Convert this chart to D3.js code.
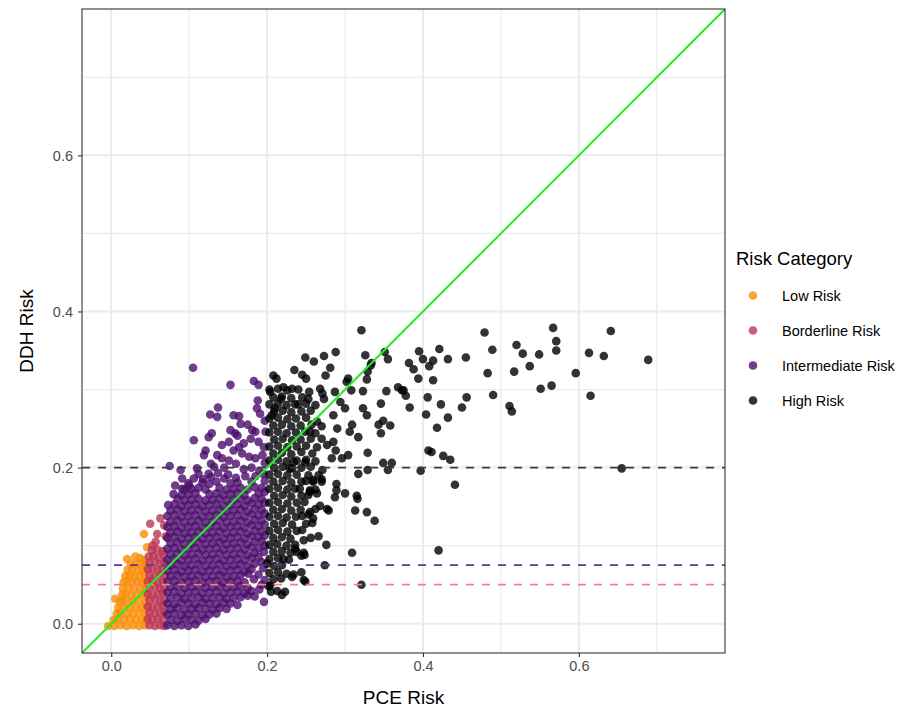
<!DOCTYPE html>
<html>
<head>
<meta charset="utf-8">
<script src="https://d3js.org/d3.v7.min.js"></script>
<style>
body { margin: 0; background: #fff; font-family: "Liberation Sans", Arial, sans-serif; }
</style>
</head>
<body>
<div id="chart"></div>
<script>
const categories = ["Low Risk", "Borderline Risk", "Intermediate Risk", "High Risk"];
const categoryColors = ["#F98E09", "#BC3754", "#4B0C6B", "#000004"];
const axisTicks = [0, 0.2, 0.4, 0.6];
const minorTicks = [0.1, 0.3, 0.5, 0.7];
const cutoffs = [0.2, 0.075, 0.05];
const cutoffColors = ["#3a3a3a", "#6a2fa0", "#ff7b7b"];

// PCE risk (x), DDH risk (y)
const lowRisk = [
  [-.004,-.003],[.004,-.003],[.012,-.002],[.020,-.003],[.028,-.002],[.036,-.003],[.043,-.002],
  [.003,.005],[.008,.006],[.016,.005],[.024,.006],[.032,.005],[.040,.006],[.045,.004],
  [.007,.013],[.012,.014],[.020,.012],[.028,.013],[.036,.014],[.044,.012],
  [.009,.021],[.016,.021],[.024,.020],[.032,.022],[.040,.021],[.045,.020],
  [.011,.029],[.014,.030],[.020,.028],[.028,.029],[.036,.030],[.044,.028],
  [.005,.032],[.014,.037],[.018,.038],[.025,.036],[.033,.037],[.041,.038],[.045,.036],
  [.015,.045],[.022,.046],[.029,.044],[.037,.045],[.044,.046],
  [.016,.053],[.020,.055],[.026,.053],[.033,.054],[.040,.052],[.045,.054],
  [.018,.061],[.024,.062],[.030,.060],[.037,.061],[.043,.062],
  [.021,.069],[.027,.070],[.034,.068],[.040,.070],[.045,.069],
  [.025,.077],[.031,.076],[.038,.078],[.044,.077],
  [.0205,.083],[.031,.086],[.042,.081],[.042,.115],[.046,.098],[.037,.084]
];

const borderlineRisk = [
  [.049,-.002],[.056,-.003],[.063,-.002],[.068,-.003],
  [.047,.006],[.053,.005],[.060,.006],[.066,.005],
  [.049,.014],[.056,.013],[.063,.014],[.068,.015],
  [.047,.022],[.053,.021],[.060,.022],[.066,.023],
  [.049,.030],[.056,.031],[.063,.029],[.068,.030],
  [.047,.038],[.053,.037],[.060,.038],[.066,.039],
  [.049,.046],[.056,.047],[.063,.045],[.068,.046],
  [.047,.054],[.053,.055],[.060,.053],[.066,.054],
  [.049,.062],[.056,.061],[.063,.063],[.068,.062],
  [.047,.070],[.053,.071],[.060,.069],[.066,.070],
  [.049,.078],[.056,.079],[.063,.077],[.068,.078],
  [.048,.086],[.054,.087],[.061,.085],[.067,.088],
  [.052,.094],[.059,.095],[.066,.093],
  [.053,.100],[.059,.115],[.070,.112],[.050,.128],[.063,.135],[.068,.126],[.057,.105]
];

const intermediateRisk = [
  [.072,-.002],[.081,-.003],[.090,-.002],[.099,-.003],[.108,-.001],
  [.076,.005],[.085,.004],[.094,.006],[.103,.005],[.112,.004],[.121,.006],
  [.072,.012],[.081,.013],[.090,.011],[.099,.012],[.108,.013],[.117,.011],[.126,.012],[.135,.013],
  [.076,.019],[.085,.020],[.094,.018],[.103,.019],[.112,.020],[.121,.019],[.130,.018],[.139,.020],[.148,.019],
  [.072,.026],[.081,.025],[.090,.027],[.099,.026],[.108,.025],[.117,.027],[.126,.026],[.135,.025],[.144,.027],[.153,.026],[.162,.024],
  [.076,.033],[.085,.034],[.094,.032],[.103,.033],[.112,.034],[.121,.032],[.130,.033],[.139,.034],[.148,.032],[.157,.033],[.166,.034],[.175,.036],[.184,.035],[.196,.028],
  [.072,.040],[.081,.041],[.090,.039],[.099,.040],[.108,.041],[.117,.039],[.126,.040],[.135,.041],[.144,.039],[.153,.040],[.162,.041],[.171,.039],[.180,.042],[.190,.044],
  [.076,.047],[.085,.048],[.094,.046],[.103,.047],[.112,.048],[.121,.046],[.130,.047],[.139,.048],[.148,.046],[.157,.047],[.166,.048],[.175,.046],[.193,.050],
  [.072,.054],[.081,.055],[.090,.053],[.099,.054],[.108,.055],[.117,.053],[.126,.054],[.135,.055],[.144,.053],[.153,.054],[.162,.055],[.171,.053],[.183,.057],[.197,.056],
  [.076,.061],[.085,.062],[.094,.060],[.103,.061],[.112,.062],[.121,.060],[.130,.061],[.139,.062],[.148,.060],[.157,.061],[.166,.062],[.176,.064],[.189,.063],
  [.072,.068],[.081,.069],[.090,.067],[.099,.068],[.108,.069],[.117,.067],[.126,.068],[.135,.069],[.144,.067],[.153,.068],[.162,.069],[.171,.067],[.180,.070],[.195,.071],
  [.076,.075],[.085,.076],[.094,.074],[.103,.075],[.112,.076],[.121,.074],[.130,.075],[.139,.076],[.148,.074],[.157,.075],[.166,.076],[.175,.074],[.184,.077],[.193,.079],
  [.072,.082],[.081,.083],[.090,.081],[.099,.082],[.108,.083],[.117,.081],[.126,.082],[.135,.083],[.144,.081],[.153,.082],[.162,.083],[.171,.081],[.180,.084],[.189,.086],
  [.076,.089],[.085,.090],[.094,.088],[.103,.089],[.112,.090],[.121,.088],[.130,.089],[.139,.090],[.148,.088],[.157,.089],[.166,.090],[.175,.088],[.184,.091],[.196,.092],
  [.072,.096],[.081,.097],[.090,.095],[.099,.096],[.108,.097],[.117,.095],[.126,.096],[.135,.097],[.144,.095],[.153,.096],[.162,.097],[.171,.095],[.180,.098],[.189,.097],[.197,.100],
  [.076,.103],[.085,.104],[.094,.102],[.103,.103],[.112,.104],[.121,.102],[.130,.103],[.139,.104],[.148,.102],[.157,.103],[.166,.104],[.175,.102],[.184,.105],[.193,.106],
  [.072,.110],[.081,.111],[.090,.109],[.099,.110],[.108,.111],[.117,.109],[.126,.110],[.135,.111],[.144,.109],[.153,.110],[.162,.111],[.171,.109],[.180,.112],[.189,.111],[.197,.113],
  [.076,.117],[.085,.118],[.094,.116],[.103,.117],[.112,.118],[.121,.116],[.130,.117],[.139,.118],[.148,.116],[.157,.117],[.166,.118],[.175,.116],[.184,.119],[.193,.118],
  [.072,.124],[.081,.125],[.090,.123],[.099,.124],[.108,.125],[.117,.123],[.126,.124],[.135,.125],[.144,.123],[.153,.124],[.162,.125],[.171,.123],[.180,.126],[.189,.125],[.197,.127],
  [.076,.131],[.085,.132],[.094,.130],[.103,.131],[.112,.132],[.121,.130],[.130,.131],[.139,.132],[.148,.130],[.157,.131],[.166,.132],[.175,.130],[.184,.133],[.193,.132],
  [.072,.138],[.081,.139],[.090,.137],[.099,.138],[.108,.139],[.117,.137],[.126,.138],[.135,.139],[.144,.137],[.153,.138],[.162,.139],[.171,.137],[.180,.140],[.189,.139],[.197,.141],
  [.076,.145],[.085,.146],[.094,.144],[.103,.145],[.112,.146],[.121,.144],[.130,.145],[.139,.146],[.148,.144],[.157,.145],[.166,.146],[.175,.144],[.184,.147],[.193,.146],
  [.073,.152],[.081,.153],[.090,.151],[.099,.152],[.108,.153],[.117,.151],[.126,.152],[.135,.153],[.144,.151],[.153,.152],[.162,.153],[.171,.151],[.180,.154],[.189,.153],[.197,.155],
  [.085,.160],[.094,.158],[.103,.159],[.112,.160],[.121,.158],[.130,.159],[.139,.160],[.148,.158],[.157,.159],[.166,.160],[.175,.158],[.184,.161],[.193,.160],
  [.080,.166],[.090,.165],[.099,.166],[.108,.167],[.126,.166],[.135,.167],[.144,.165],[.153,.166],[.162,.167],[.171,.165],[.189,.167],[.197,.169],
  [.094,.172],[.103,.173],[.112,.174],[.121,.172],[.139,.174],[.148,.172],[.157,.173],[.166,.174],[.175,.172],[.184,.175],[.193,.174],
  [.099,.180],[.117,.181],[.126,.179],[.135,.182],[.153,.180],[.162,.181],[.180,.182],[.197,.183],
  [.082,.177],[.091,.173],[.100,.177],[.089,.197],[.091,.186],[.110,.199],[.112,.192],[.106,.186],
  [.125,.192],[.132,.201],[.075,.202],[.118,.185],[.128,.188],[.145,.186],[.137,.193],[.150,.191],
  [.160,.187],[.172,.189],[.185,.189],[.195,.192],[.128,.205],[.145,.200],[.160,.205],[.170,.198],
  [.180,.200],[.190,.196],[.197,.206],[.121,.222],[.119,.216],[.136,.216],[.142,.212],[.151,.209],
  [.168,.218],[.177,.214],[.185,.212],[.194,.216],[.142,.229],[.151,.233],[.157,.222],[.164,.226],
  [.170,.231],[.196,.226],[.106,.235],[.129,.244],[.125,.239],[.153,.248],[.159,.244],[.162,.241],
  [.181,.248],[.185,.246],[.179,.237],[.189,.233],[.198,.246],[.166,.256],[.175,.255],[.197,.260],
  [.157,.267],[.164,.266],[.137,.277],[.127,.268],[.136,.265],[.188,.286],[.187,.276],[.191,.269],
  [.153,.306],[.183,.311],[.189,.306],[.105,.328]
];

const highRisk = [
  // dense part just right of 0.2
  [.203,.300],[.214,.301],[.226,.299],[.240,.300],
  [.208,.290],[.219,.291],[.231,.289],[.245,.290],
  [.203,.281],[.214,.282],[.225,.280],[.236,.281],[.250,.282],[.262,.280],
  [.209,.272],[.220,.273],[.231,.271],[.244,.272],[.256,.273],
  [.203,.263],[.214,.264],[.226,.262],[.237,.263],[.250,.264],
  [.208,.254],[.219,.255],[.231,.253],[.243,.254],[.257,.255],[.270,.253],
  [.203,.245],[.214,.246],[.225,.244],[.237,.245],[.249,.246],[.262,.244],
  [.209,.236],[.220,.237],[.232,.235],[.243,.236],[.256,.237],
  [.203,.227],[.214,.228],[.226,.226],[.238,.227],[.250,.228],[.264,.226],
  [.208,.218],[.219,.219],[.231,.217],[.258,.218],
  [.203,.209],[.214,.210],[.225,.208],[.238,.209],[.250,.210],[.262,.208],
  [.209,.200],[.220,.201],[.232,.199],[.244,.200],[.256,.201],
  [.203,.191],[.214,.192],[.226,.190],[.238,.191],[.266,.190],
  [.208,.182],[.220,.183],[.231,.181],[.244,.182],[.250,.183],
  [.203,.173],[.214,.174],[.226,.172],[.236,.173],[.262,.172],
  [.209,.164],[.220,.165],[.231,.163],[.244,.164],[.253,.165],
  [.203,.155],[.214,.156],[.226,.154],[.238,.155],[.248,.156],
  [.208,.146],[.219,.147],[.231,.145],[.243,.146],[.262,.147],
  [.203,.137],[.214,.138],[.225,.136],[.237,.137],[.245,.138],
  [.209,.128],[.220,.129],[.232,.127],[.250,.128],[.258,.129],
  [.203,.119],[.214,.120],[.226,.118],[.238,.119],[.245,.120],
  [.208,.110],[.219,.111],[.230,.109],[.256,.110],
  [.203,.101],[.213,.102],[.225,.100],[.236,.101],
  [.208,.092],[.219,.093],[.230,.091],
  [.203,.083],[.214,.084],[.228,.082],
  [.209,.074],[.219,.075],
  [.203,.065],[.214,.066],[.225,.064],
  [.208,.057],[.218,.058],
  [.205,.041],[.213,.042],
  // lower scatter
  [.309,.091],[.321,.050],[.313,.145],[.328,.143],[.338,.132],[.316,.160],
  [.287,.162],[.289,.171],[.277,.147],[.268,.151],[.279,.145],[.276,.101],[.266,.112],[.274,.075],
  [.255,.143],[.259,.135],[.253,.140],[.264,.167],[.270,.182],[.259,.182],[.255,.171],
  [.247,.107],[.248,.088],[.238,.092],[.236,.096],[.244,.066],[.249,.054],[.234,.063],
  [.221,.083],[.223,.041],[.219,.037],[.204,.049],[.200,.077],[.232,.060],[.247,.056],[.202,.048],
  [.244,.087],[.247,.091],
  // middle scatter
  [.321,.376],[.351,.348],[.355,.339],[.368,.303],[.334,.334],[.333,.331],[.329,.323],[.326,.344],
  [.288,.348],[.273,.343],[.260,.336],[.249,.341],[.281,.328],[.275,.318],[.235,.325],[.245,.319],
  [.250,.314],[.208,.318],[.212,.314],[.304,.314],[.302,.310],[.328,.313],[.353,.298],[.323,.298],
  [.308,.299],[.287,.297],[.268,.301],[.271,.295],[.273,.288],[.254,.297],[.253,.288],[.240,.281],
  [.232,.301],[.221,.303],[.218,.288],[.204,.297],[.210,.276],[.206,.267],[.294,.284],[.300,.276],
  [.285,.267],[.290,.250],[.323,.276],[.328,.267],[.346,.282],[.343,.255],[.346,.244],[.349,.260],
  [.358,.254],[.309,.255],[.306,.246],[.317,.239],[.264,.259],[.255,.246],[.270,.237],[.277,.229],
  [.285,.233],[.288,.222],[.304,.216],[.296,.212],[.329,.219],[.349,.206],[.360,.206],[.355,.197],
  [.329,.197],[.317,.192],[.283,.212],[.271,.197],[.253,.190],[.259,.184],[.270,.185],[.244,.220],
  [.249,.207],[.234,.207],[.229,.199],[.255,.169],[.242,.173],[.289,.179],[.300,.167],[.315,.164],
  // right scatter
  [.479,.373],[.421,.352],[.395,.349],[.400,.339],[.413,.337],[.408,.330],[.432,.339],[.455,.341],
  [.382,.334],[.388,.326],[.394,.314],[.413,.312],[.489,.351],[.483,.321],[.520,.357],[.528,.346],
  [.549,.345],[.567,.379],[.571,.362],[.571,.350],[.537,.330],[.517,.323],[.551,.301],[.565,.305],
  [.596,.321],[.613,.347],[.632,.343],[.641,.375],[.689,.338],[.615,.292],[.490,.293],[.511,.279],
  [.514,.272],[.456,.290],[.450,.277],[.423,.281],[.432,.264],[.406,.290],[.404,.268],[.418,.251],
  [.383,.277],[.375,.299],[.378,.292],[.373,.299],[.407,.222],[.411,.220],[.426,.215],[.435,.210],
  [.397,.196],[.655,.199],[.441,.178],[.420,.094]
];

const seriesData = [lowRisk, borderlineRisk, intermediateRisk, highRisk];

const width = 923, height = 714;
const panel = {left: 82, right: 725, top: 9, bottom: 653};
const pointRadius = 4.3;
const pointAlpha = 0.8;

const svg = d3.select("#chart")
    .append("svg")
    .attr("width", width)
    .attr("height", height);

var xScale = d3.scaleLinear()
    .domain([-0.0375, 0.7875])
    .range([panel.left, panel.right]);

var yScale = d3.scaleLinear()
    .domain([-0.0375, 0.7875])
    .range([panel.bottom, panel.top]);

svg.append("defs").append("clipPath")
    .attr("id", "panel-clip")
    .append("rect")
    .attr("x", panel.left)
    .attr("y", panel.top)
    .attr("width", panel.right - panel.left)
    .attr("height", panel.bottom - panel.top);

// grid
const grid = svg.append("g");
grid.selectAll(".minor-x").data(minorTicks).enter().append("line")
    .attr("x1", d => xScale(d)).attr("x2", d => xScale(d))
    .attr("y1", panel.top).attr("y2", panel.bottom)
    .attr("stroke", "#EBEBEB").attr("stroke-width", 1.2);
grid.selectAll(".minor-y").data(minorTicks).enter().append("line")
    .attr("y1", d => yScale(d)).attr("y2", d => yScale(d))
    .attr("x1", panel.left).attr("x2", panel.right)
    .attr("stroke", "#EBEBEB").attr("stroke-width", 1.2);
grid.selectAll(".major-x").data(axisTicks).enter().append("line")
    .attr("x1", d => xScale(d)).attr("x2", d => xScale(d))
    .attr("y1", panel.top).attr("y2", panel.bottom)
    .attr("stroke", "#EBEBEB").attr("stroke-width", 2);
grid.selectAll(".major-y").data(axisTicks).enter().append("line")
    .attr("y1", d => yScale(d)).attr("y2", d => yScale(d))
    .attr("x1", panel.left).attr("x2", panel.right)
    .attr("stroke", "#EBEBEB").attr("stroke-width", 2);

// points
const plot = svg.append("g").attr("clip-path", "url(#panel-clip)");
seriesData.forEach(function(points, i) {
    plot.append("g").selectAll("circle")
        .data(points)
        .enter().append("circle")
        .attr("cx", d => xScale(d[0]))
        .attr("cy", d => yScale(d[1]))
        .attr("r", pointRadius)
        .attr("fill", categoryColors[i])
        .attr("fill-opacity", pointAlpha);
});

// cutoff lines
plot.selectAll(".cutoff").data(cutoffs).enter().append("line")
    .attr("x1", panel.left).attr("x2", panel.right)
    .attr("y1", d => yScale(d)).attr("y2", d => yScale(d))
    .attr("stroke", (d, i) => cutoffColors[i])
    .attr("stroke-width", 1.8)
    .attr("stroke-dasharray", "8,8");

// identity line
const dom = xScale.domain();
plot.append("line")
    .attr("x1", xScale(dom[0])).attr("y1", yScale(dom[0]))
    .attr("x2", xScale(dom[1])).attr("y2", yScale(dom[1]))
    .attr("stroke", "#22EE22")
    .attr("stroke-width", 2);

// panel border
svg.append("rect")
    .attr("x", panel.left).attr("y", panel.top)
    .attr("width", panel.right - panel.left)
    .attr("height", panel.bottom - panel.top)
    .attr("fill", "none")
    .attr("stroke", "#333333")
    .attr("stroke-width", 1.1);

// axes
const xAxis = svg.append("g")
    .attr("transform", "translate(0," + panel.bottom + ")")
    .call(d3.axisBottom(xScale).tickValues(axisTicks).tickFormat(d3.format(".1f")).tickSize(4).tickPadding(4));
const yAxis = svg.append("g")
    .attr("transform", "translate(" + panel.left + ",0)")
    .call(d3.axisLeft(yScale).tickValues(axisTicks).tickFormat(d3.format(".1f")).tickSize(4).tickPadding(5));
[xAxis, yAxis].forEach(function(ax) {
    ax.select(".domain").remove();
    ax.selectAll(".tick line").attr("stroke", "#333333").attr("stroke-width", 1.1);
    ax.selectAll(".tick text")
        .attr("fill", "#4D4D4D")
        .style("font-size", "14.5px")
        .style("font-family", "'Liberation Sans', Arial, sans-serif");
});

svg.append("text")
    .attr("x", (panel.left + panel.right) / 2)
    .attr("y", 704)
    .attr("text-anchor", "middle")
    .style("font-size", "19px")
    .text("PCE Risk");

svg.append("text")
    .attr("transform", "translate(33," + ((panel.top + panel.bottom) / 2) + ") rotate(-90)")
    .attr("text-anchor", "middle")
    .style("font-size", "19px")
    .text("DDH Risk");

// legend
svg.append("text")
    .attr("x", 736)
    .attr("y", 265)
    .style("font-size", "18.5px")
    .text("Risk Category");

const legend = svg.selectAll(".legend")
    .data(categories)
    .enter().append("g")
    .attr("transform", (d, i) => "translate(753," + (295.5 + i * 35) + ")");

legend.append("circle")
    .attr("r", pointRadius)
    .attr("fill", (d, i) => categoryColors[i])
    .attr("fill-opacity", pointAlpha);

legend.append("text")
    .attr("x", 29)
    .attr("dy", "0.35em")
    .style("font-size", "14.5px")
    .text(d => d);
</script>
</body>
</html>
